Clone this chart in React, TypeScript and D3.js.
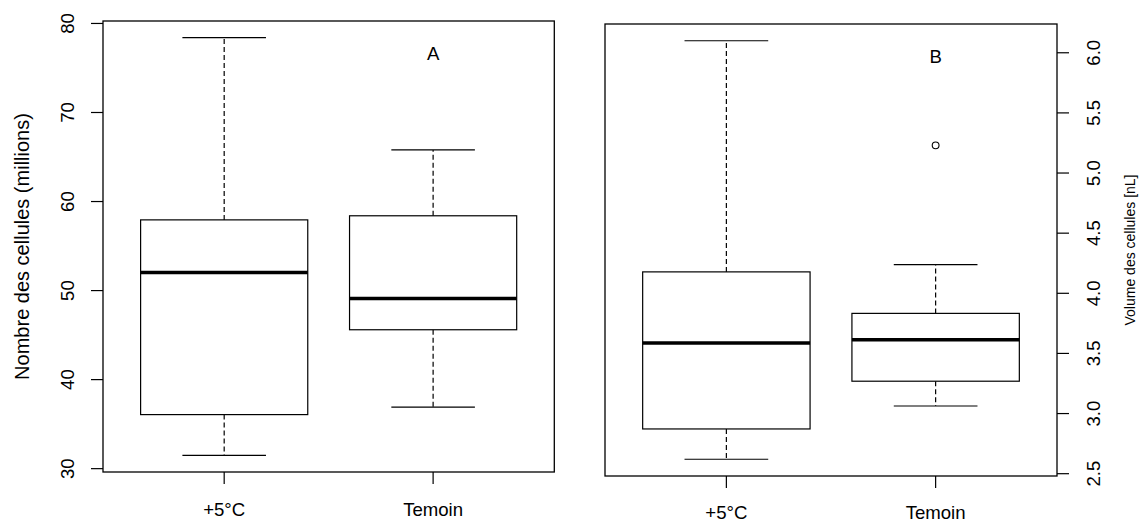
import React from "react";
import * as d3 from "d3";

// ---------- data ----------
const categories = ["+5°C", "Temoin"];
// [lower whisker, Q1, median, Q3, upper whisker]
const statsA = [
  [31.5, 36.07, 52.02, 57.94, 78.4],
  [36.92, 45.6, 49.1, 58.4, 65.8],
];
const outliersA: number[][] = [[], []];
const statsB = [
  [2.62, 2.872, 3.586, 4.178, 6.1],
  [3.063, 3.269, 3.613, 3.833, 4.238],
];
const outliersB: number[][] = [[], [5.23]];
const ticksA = [30, 40, 50, 60, 70, 80];
const ticksB = [2.5, 3.0, 3.5, 4.0, 4.5, 5.0, 5.5, 6.0];

const FONT = "'Liberation Sans', Arial, Helvetica, sans-serif";

type PanelProps = {
  stats: number[][];
  outliers: number[][];
  ticks: number[];
  tickFmt: (v: number) => string;
  frame: { x0: number; x1: number; y0: number; y1: number };
  side: "left" | "right";
  letter: string;
  title: string;
  titleSize: number;
  titleX: number;
  tickLabelX: number;
  catBaseline: number;
};

function Panel(p: PanelProps) {
  const { x0, x1, y0, y1 } = p.frame;
  const all = p.stats.flat().concat(p.outliers.flat());
  const mn = d3.min(all) as number;
  const mx = d3.max(all) as number;
  const pad = (mx - mn) * 0.04;
  const y = d3.scaleLinear().domain([mn - pad, mx + pad]).range([y1, y0]);
  const n = categories.length;
  const x = d3
    .scaleLinear()
    .domain([0.5 - 0.04 * n, n + 0.5 + 0.04 * n])
    .range([x0, x1]);
  const boxW = x(1.4) - x(1);
  const capW = boxW / 2;
  const tickLen = 12;
  const axisX = p.side === "left" ? x0 : x1;
  const dir = p.side === "left" ? -1 : 1;

  return (
    <g>
      {p.stats.map((s, i) => {
        const cx = x(i + 1);
        const [lo, q1, med, q3, hi] = s;
        return (
          <g key={i}>
            <line x1={cx} x2={cx} y1={y(q3)} y2={y(hi)} stroke="#000" strokeWidth={1.2} strokeDasharray="5,3" />
            <line x1={cx} x2={cx} y1={y(q1)} y2={y(lo)} stroke="#000" strokeWidth={1.2} strokeDasharray="5,3" />
            <line x1={cx - capW} x2={cx + capW} y1={y(hi)} y2={y(hi)} stroke="#000" strokeWidth={1.2} />
            <line x1={cx - capW} x2={cx + capW} y1={y(lo)} y2={y(lo)} stroke="#000" strokeWidth={1.2} />
            <rect x={cx - boxW} y={y(q3)} width={boxW * 2} height={y(q1) - y(q3)} fill="#fff" stroke="#000" strokeWidth={1.2} />
            <line x1={cx - boxW} x2={cx + boxW} y1={y(med)} y2={y(med)} stroke="#000" strokeWidth={3.5} />
            {p.outliers[i].map((o, j) => (
              <circle key={j} cx={cx} cy={y(o)} r={3.4} fill="none" stroke="#000" strokeWidth={1.1} />
            ))}
          </g>
        );
      })}
      <rect x={x0} y={y0} width={x1 - x0} height={y1 - y0} fill="none" stroke="#000" strokeWidth={1.3} />
      {/* y axis */}
      {p.ticks.map((t) => (
        <g key={t}>
          <line x1={axisX} x2={axisX + dir * tickLen} y1={y(t)} y2={y(t)} stroke="#000" strokeWidth={1.2} />
          <text
            transform={`translate(${p.tickLabelX},${y(t)}) rotate(-90)`}
            textAnchor="middle"
            fontSize={18.6}
            fontFamily={FONT}
            fill="#000"
          >
            {p.tickFmt(t)}
          </text>
        </g>
      ))}
      {/* x axis */}
      {categories.map((c, i) => (
        <g key={c}>
          <line x1={x(i + 1)} x2={x(i + 1)} y1={y1} y2={y1 + tickLen} stroke="#000" strokeWidth={1.2} />
          <text x={x(i + 1)} y={p.catBaseline} textAnchor="middle" fontSize={18.6} fontFamily={FONT} fill="#000">
            {c}
          </text>
        </g>
      ))}
      <text x={x(2)} y={y0 + 39} textAnchor="middle" fontSize={18.6} fontFamily={FONT} fill="#000">
        {p.letter}
      </text>
      <text
        transform={`translate(${p.titleX},${(y0 + y1) / 2}) rotate(-90)`}
        textAnchor="middle"
        fontSize={p.titleSize}
        fontFamily={FONT}
        fill="#000"
      >
        {p.title}
      </text>
    </g>
  );
}

export default function App() {
  return (
    <svg
      width={1141}
      height={522}
      style={{ position: "absolute", left: 0, top: 0, background: "#fff" }}
    >
      <rect width={1141} height={522} fill="#fff" />
      <Panel
        stats={statsA}
        outliers={outliersA}
        ticks={ticksA}
        tickFmt={(v) => d3.format("d")(v)}
        frame={{ x0: 103, x1: 554.3, y0: 21, y1: 472 }}
        side="left"
        letter="A"
        title="Nombre des cellules (millions)"
        titleSize={20}
        titleX={29}
        tickLabelX={74}
        catBaseline={516}
      />
      <Panel
        stats={statsB}
        outliers={outliersB}
        ticks={ticksB}
        tickFmt={(v) => d3.format(".1f")(v)}
        frame={{ x0: 605, x1: 1057, y0: 24, y1: 476 }}
        side="right"
        letter="B"
        title="Volume des cellules [nL]"
        titleSize={14}
        titleX={1135}
        tickLabelX={1099.5}
        catBaseline={518.5}
      />
    </svg>
  );
}
